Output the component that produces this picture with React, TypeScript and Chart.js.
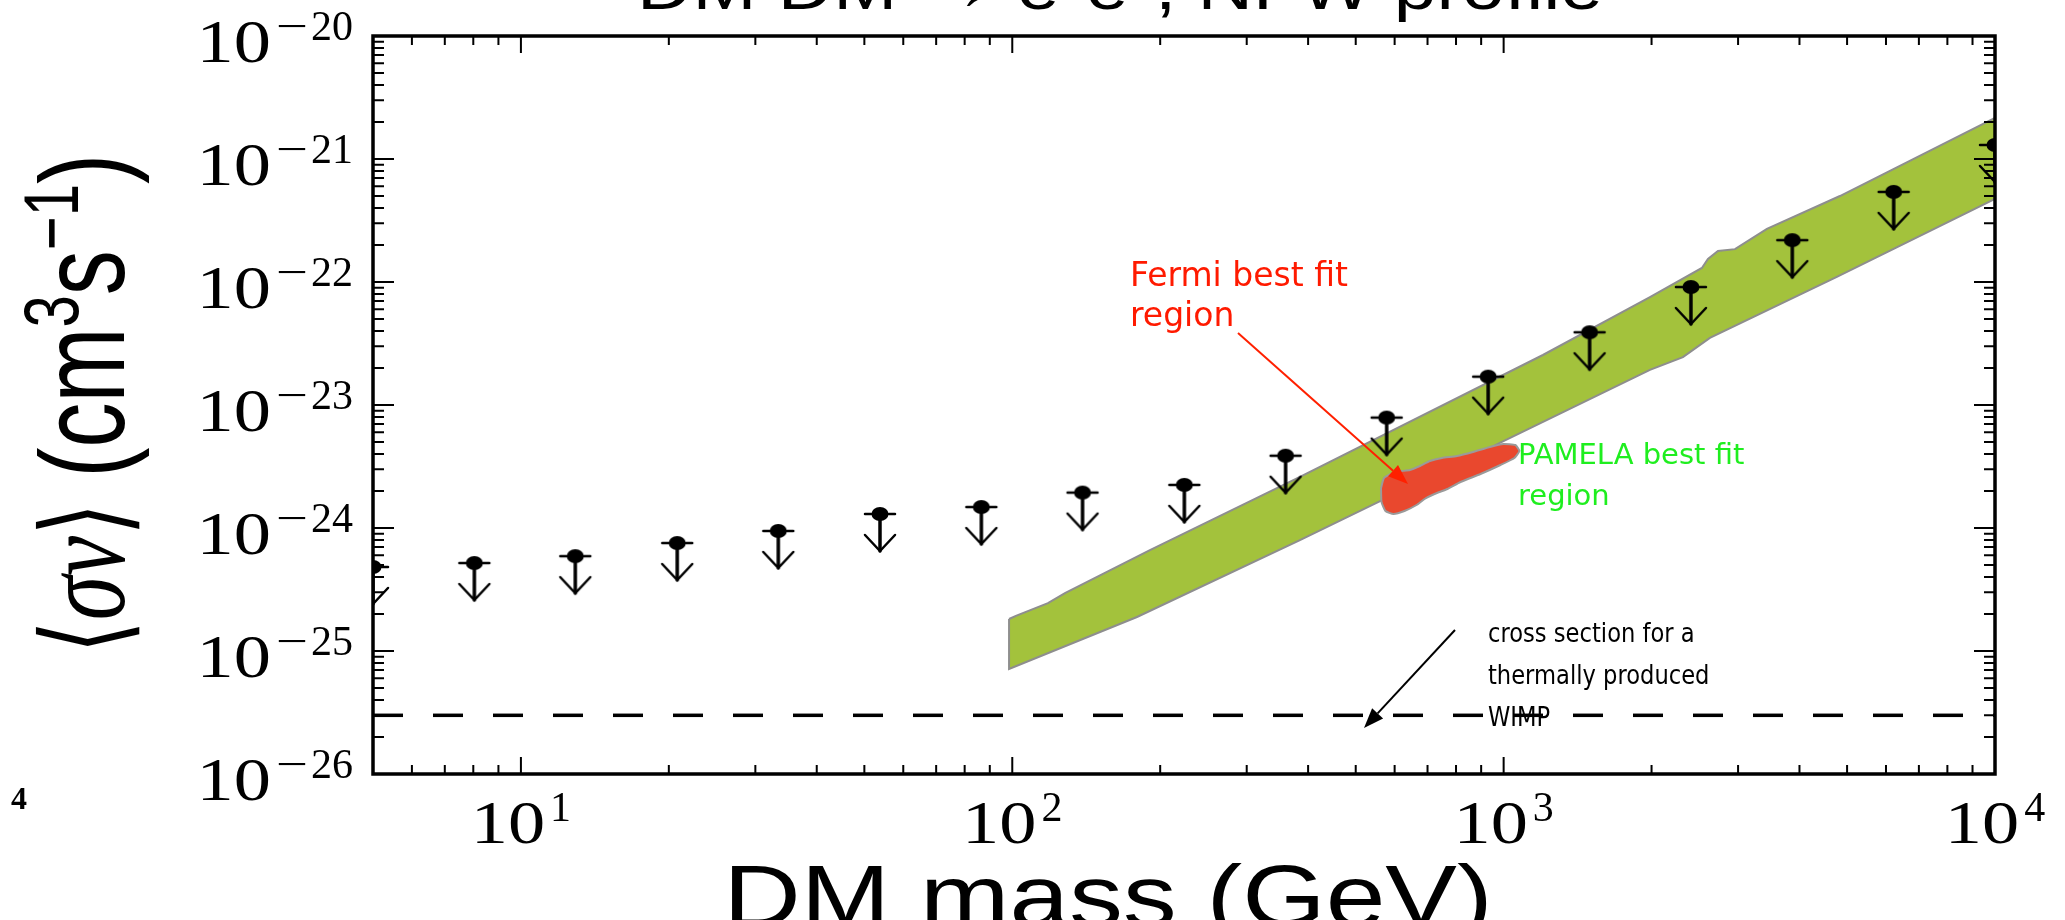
import React, { useEffect, useRef } from 'react';
import { Chart, registerables } from 'chart.js';

Chart.register(...registerables);

// ---------- data ----------
// Upper limits on <sigma v> (dots with downward arrows)
const limitMass = [5, 8.04, 12.9, 20.8, 33.4, 53.8, 86.5, 139, 224, 360, 578, 930, 1496, 2405, 3868, 6220, 10000];
const limitSigmaV = [4.82e-25, 5.19e-25, 5.9e-25, 7.55e-25, 9.46e-25, 1.3e-24, 1.48e-24, 1.94e-24, 2.24e-24, 3.87e-24, 7.9e-24, 1.7e-23, 3.9e-23, 9.1e-23, 2.19e-22, 5.4e-22, 1.3e-21];

// PAMELA best-fit band (green)
const bandUpperMass = [98.5, 101.7, 118.2, 128, 190.6, 385, 1202, 1985, 2532, 2605, 2730, 2957, 3434, 4835, 10000];
const bandUpperSigmaV = [1.82e-25, 1.93e-25, 2.45e-25, 2.96e-25, 6.62e-25, 2.6e-24, 2.55e-23, 7.55e-23, 1.3e-22, 1.54e-22, 1.79e-22, 1.85e-22, 2.7e-22, 5.0e-22, 2.16e-21];
const bandLowerMass = [98.5, 179.4, 385, 1985, 2317, 2629, 4766, 10000];
const bandLowerSigmaV = [7.14e-26, 1.89e-25, 7.98e-25, 1.93e-23, 2.45e-23, 3.51e-23, 1.1e-22, 4.73e-22];

// Fermi best-fit region (red blob outline)
const fermiMass = [562.9, 570.8, 600.9, 644.8, 675.5, 707.9, 749, 803.5, 866, 937.8, 999.1, 1056.8, 1076.7, 1051.7, 985.2, 897.2, 816.8, 768.5, 723.3, 690.2, 664.8, 628.3, 596.7, 574.7, 564.2, 562.9];
const fermiSigmaV = [2.114e-24, 2.549e-24, 2.852e-24, 2.96e-24, 3.191e-24, 3.505e-24, 3.707e-24, 3.849e-24, 4.148e-24, 4.554e-24, 4.817e-24, 4.728e-24, 4.227e-24, 3.707e-24, 3.252e-24, 2.748e-24, 2.366e-24, 2.075e-24, 1.89e-24, 1.721e-24, 1.538e-24, 1.374e-24, 1.299e-24, 1.374e-24, 1.627e-24, 2.114e-24];

// Thermal relic cross section
const thermalMass = [5, 10000];
const thermalSigmaV = [3e-26, 3e-26];

// Axis ticks
const xMajorTicks = [10, 100, 1000, 10000];
const xTickExponents = ['1', '2', '3', '4'];
const yMajorTicks = [1e-26, 1e-25, 1e-24, 1e-23, 1e-22, 1e-21, 1e-20];
const yTickExponents = ['−26', '−25', '−24', '−23', '−22', '−21', '−20'];
const minorMultipliers = [2, 3, 4, 5, 6, 7, 8, 9];

const titleText = 'DM DM → e⁺e⁻, NFW profile';
const xTitleText = 'DM mass (GeV)';
const fermiLabel = ['Fermi best fit', 'region'];
const pamelaLabel = ['PAMELA best fit', 'region'];
const thermalLabel = ['cross section for a', 'thermally produced', 'WIMP'];

const SERIF = '"Liberation Serif", "DejaVu Serif", serif';
const SANS = '"Liberation Sans", Arial, sans-serif';
const HAND = '"DejaVu Sans", sans-serif';

function pts(xs: number[], ys: number[]) {
  return xs.map((x, i) => ({ x, y: ys[i] }));
}

function makeMarker(): HTMLCanvasElement {
  const c = document.createElement('canvas');
  c.width = 40;
  c.height = 100;
  const g = c.getContext('2d')!;
  const cx = 20, cy = 50;
  g.strokeStyle = '#000';
  g.fillStyle = '#000';
  g.lineCap = 'round';
  g.lineWidth = 3.5;
  g.beginPath(); g.moveTo(cx, cy); g.lineTo(cx, cy + 37); g.stroke();
  g.lineWidth = 2.5;
  g.beginPath(); g.moveTo(cx - 15, cy + 21); g.lineTo(cx, cy + 37); g.lineTo(cx + 15, cy + 21); g.stroke();
  g.lineWidth = 2.5;
  g.beginPath(); g.moveTo(cx - 15, cy); g.lineTo(cx + 15, cy); g.stroke();
  g.beginPath(); g.ellipse(cx, cy, 8.5, 7, 0, 0, Math.PI * 2); g.fill();
  return c;
}

// draw text stretched horizontally by sx, left-aligned at x
function stretchText(ctx: CanvasRenderingContext2D, t: string, x: number, y: number, sx: number) {
  ctx.save();
  ctx.translate(x, y);
  ctx.scale(sx, 1);
  ctx.fillText(t, 0, 0);
  ctx.restore();
}

function drawPow(ctx: CanvasRenderingContext2D, exp: string, x: number, y: number, align: 'right' | 'center') {
  const baseFont = `62px ${SERIF}`;
  const supFont = `42px ${SERIF}`;
  const baseSx = 1.2;
  const minusSx = 1.35;
  ctx.font = baseFont;
  const wb = ctx.measureText('10').width * baseSx;
  ctx.font = supFont;
  const minus = exp.startsWith('−');
  const digits = minus ? exp.slice(1) : exp;
  const wm = minus ? ctx.measureText('−').width * minusSx + 3 : 0;
  const wd = ctx.measureText(digits).width;
  const gap = 5;
  const total = wb + gap + wm + wd;
  const x0 = align === 'right' ? x - total : x - total / 2;
  ctx.textAlign = 'left';
  ctx.textBaseline = 'alphabetic';
  ctx.font = baseFont;
  stretchText(ctx, '10', x0, y, baseSx);
  let xx = x0 + wb + gap;
  ctx.font = supFont;
  if (minus) {
    stretchText(ctx, '−', xx, y - 22, minusSx);
    xx += wm;
  }
  ctx.fillText(digits, xx, y - 22);
}

function arrow(ctx: CanvasRenderingContext2D, x1: number, y1: number, x2: number, y2: number, color: string, lw: number, headLen: number, headW: number) {
  const ang = Math.atan2(y2 - y1, x2 - x1);
  const c = Math.cos(ang), s = Math.sin(ang);
  const bx = x2 - headLen * c, by = y2 - headLen * s;
  ctx.strokeStyle = color;
  ctx.fillStyle = color;
  ctx.lineWidth = lw;
  ctx.beginPath(); ctx.moveTo(x1, y1); ctx.lineTo(bx, by); ctx.stroke();
  ctx.beginPath();
  ctx.moveTo(x2, y2);
  ctx.lineTo(bx + (headW / 2) * s, by - (headW / 2) * c);
  ctx.lineTo(bx - (headW / 2) * s, by + (headW / 2) * c);
  ctx.closePath();
  ctx.fill();
}

const decorPlugin = {
  id: 'decor',
  afterDraw(chart: any) {
    const ctx: CanvasRenderingContext2D = chart.ctx;
    const a = chart.chartArea;
    const xs = chart.scales.x;
    const ys = chart.scales.y;
    ctx.save();

    // ticks (inward, all four sides)
    ctx.strokeStyle = '#000';
    ctx.lineWidth = 2;
    const xTick = (v: number, len: number) => {
      const px = xs.getPixelForValue(v);
      if (px < a.left - 0.5 || px > a.right + 0.5) return;
      ctx.beginPath();
      ctx.moveTo(px, a.bottom); ctx.lineTo(px, a.bottom - len);
      ctx.moveTo(px, a.top); ctx.lineTo(px, a.top + len);
      ctx.stroke();
    };
    const yTick = (v: number, len: number) => {
      const py = ys.getPixelForValue(v);
      if (py < a.top - 0.5 || py > a.bottom + 0.5) return;
      ctx.beginPath();
      ctx.moveTo(a.left, py); ctx.lineTo(a.left + len, py);
      ctx.moveTo(a.right, py); ctx.lineTo(a.right - len, py);
      ctx.stroke();
    };
    [1, 10, 100, 1000].forEach((d) => minorMultipliers.forEach((m) => xTick(d * m, 9)));
    xMajorTicks.forEach((v) => xTick(v, 17));
    yMajorTicks.slice(0, -1).forEach((d) => minorMultipliers.forEach((m) => yTick(d * m, 11)));
    yMajorTicks.forEach((v) => yTick(v, 21));

    // frame
    ctx.lineWidth = 3.5;
    ctx.strokeRect(a.left, a.top, a.right - a.left, a.bottom - a.top);

    // tick labels
    ctx.fillStyle = '#000';
    yMajorTicks.forEach((v, i) => {
      const py = ys.getPixelForValue(v);
      drawPow(ctx, yTickExponents[i], a.left - 20, py + 26, 'right');
    });
    xMajorTicks.forEach((v, i) => {
      const px = xs.getPixelForValue(v);
      drawPow(ctx, xTickExponents[i], px, 843, 'center');
    });

    // stray label fragment at bottom-left
    ctx.font = `bold 32px ${SERIF}`;
    ctx.textAlign = 'left';
    ctx.fillText('4', 11, 809);

    // title (cut by the top edge)
    ctx.font = `64px ${SANS}`;
    ctx.textAlign = 'left';
    ctx.textBaseline = 'alphabetic';
    {
      const sx = 1.2;
      const w = ctx.measureText(titleText).width * sx;
      stretchText(ctx, titleText, 1120 - w / 2, 9, sx);
    }

    // x title
    ctx.font = `88px ${SANS}`;
    {
      const sx = 1.22;
      const w = ctx.measureText(xTitleText).width * sx;
      stretchText(ctx, xTitleText, 1108 - w / 2, 926, sx);
    }

    // y title (rotated, mixed fonts, glyphs stretched across the text direction)
    const parts = [
      { t: '⟨', f: `86px "DejaVu Sans", sans-serif`, r: 0 },
      { t: 'σv', f: `italic 90px ${SERIF}`, r: 0 },
      { t: '⟩', f: `86px "DejaVu Sans", sans-serif`, r: 0 },
      { t: ' (cm', f: `90px ${SANS}`, r: 0 },
      { t: '3', f: `58px ${SANS}`, r: 34 },
      { t: 's', f: `90px ${SANS}`, r: 0 },
      { t: '−1', f: `58px ${SANS}`, r: 34 },
      { t: ')', f: `90px ${SANS}`, r: 0 },
    ];
    let total = 0;
    const widths = parts.map((p) => { ctx.font = p.f; const w = ctx.measureText(p.t).width; total += w; return w; });
    ctx.save();
    ctx.translate(124, 404);
    ctx.rotate(-Math.PI / 2);
    ctx.scale(1, 1.35);
    ctx.textAlign = 'left';
    let u = -total / 2;
    parts.forEach((p, i) => {
      ctx.font = p.f;
      ctx.fillText(p.t, u, -p.r);
      u += widths[i];
    });
    ctx.restore();

    // annotations
    ctx.textAlign = 'left';
    ctx.textBaseline = 'middle';
    ctx.fillStyle = '#ff1a00';
    ctx.font = `33px ${HAND}`;
    fermiLabel.forEach((t, i) => ctx.fillText(t, 1130, 277 + i * 40));
    ctx.fillStyle = '#1fee1f';
    ctx.font = `29px ${HAND}`;
    pamelaLabel.forEach((t, i) => ctx.fillText(t, 1518, 456 + i * 41));
    ctx.fillStyle = '#000';
    ctx.font = `26px ${HAND}`;
    thermalLabel.forEach((t, i) => stretchText(ctx, t, 1488, 635 + i * 42, 0.87));

    arrow(ctx, 1238, 333, 1408, 484, '#ff2000', 2, 20, 15);
    arrow(ctx, 1455, 630, 1364, 728, '#000', 2, 20, 15);

    ctx.restore();
  },
};

export default function App() {
  const ref = useRef<HTMLCanvasElement | null>(null);
  useEffect(() => {
    const canvas = ref.current;
    if (!canvas) return;
    const marker = makeMarker();
    const bandPolygon = [
      ...pts(bandUpperMass, bandUpperSigmaV),
      ...pts(bandLowerMass, bandLowerSigmaV).reverse(),
    ];
    bandPolygon.push({ ...bandPolygon[0] });
    const chart = new Chart(canvas, {
      type: 'line',
      data: {
        // Chart.js paints dataset 0 last, so the limits come first (on top)
        datasets: [
          {
            data: pts(limitMass, limitSigmaV),
            showLine: false,
            pointStyle: marker,
            pointRadius: 8,
            clip: 0,
          } as any,
          {
            data: pts(fermiMass, fermiSigmaV),
            fill: 'shape',
            backgroundColor: '#e9482e',
            borderColor: '#9a9a9a',
            borderWidth: 2,
            pointRadius: 0,
            tension: 0.15,
            clip: 0,
          } as any,
          {
            data: pts(thermalMass, thermalSigmaV),
            fill: false,
            borderColor: '#000',
            borderWidth: 3.5,
            borderDash: [30, 30],
            pointRadius: 0,
            clip: 0,
          } as any,
          {
            data: bandPolygon,
            fill: 'shape',
            backgroundColor: '#a3c23c',
            borderColor: '#8e8e8e',
            borderWidth: 2,
            pointRadius: 0,
            tension: 0,
            clip: 0,
          } as any,
        ],
      },
      options: {
        animation: false,
        responsive: false,
        maintainAspectRatio: false,
        events: [],
        layout: { padding: { left: 373, right: 70, top: 36, bottom: 146 } },
        plugins: {
          legend: { display: false },
          tooltip: { enabled: false },
          title: { display: false },
        },
        scales: {
          x: { type: 'logarithmic', min: 5, max: 10000, display: false },
          y: { type: 'logarithmic', min: 1e-26, max: 1e-20, display: false },
        },
      },
      plugins: [decorPlugin],
    });
    return () => chart.destroy();
  }, []);
  return (
    <div style={{ position: 'absolute', left: 0, top: 0, width: 2065, height: 920, background: '#fff', overflow: 'hidden' }}>
      <canvas ref={ref} width={2065} height={920} style={{ display: 'block', width: 2065, height: 920 }} />
    </div>
  );
}
